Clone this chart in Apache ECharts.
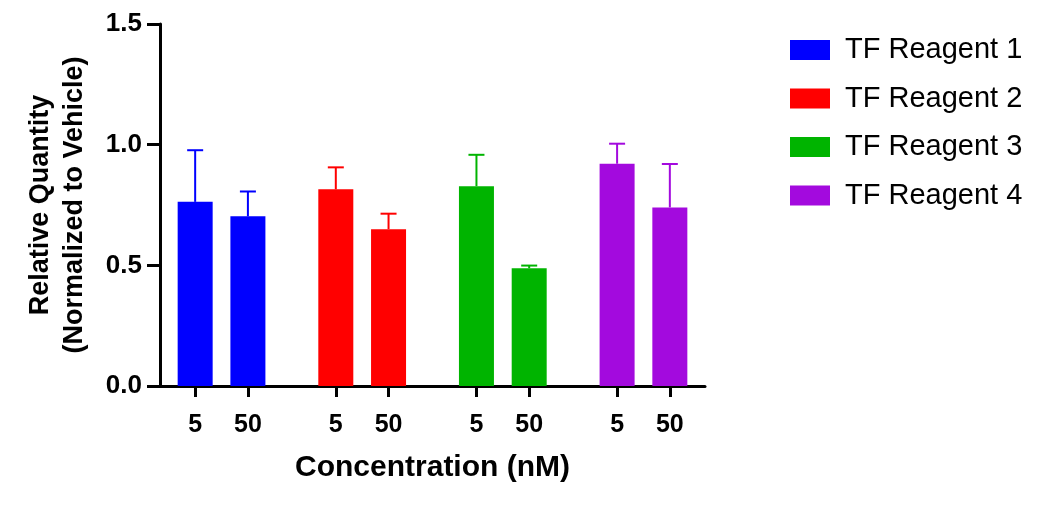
<!DOCTYPE html>
<html>
<head>
<meta charset="utf-8">
<script src="https://cdn.jsdelivr.net/npm/echarts@6/dist/echarts.min.js"></script>
<style>
  html, body { margin: 0; padding: 0; background: #fff; }
  #chart { width: 1060px; height: 510px; }
</style>
</head>
<body>
<div id="chart"></div>
<script>
  // data
  var reagents = ['TF Reagent 1', 'TF Reagent 2', 'TF Reagent 3', 'TF Reagent 4'];
  var concentrations = ['5', '50'];
  // mean per reagent, [5 nM, 50 nM]
  var reagent1Mean = [0.763, 0.703];
  var reagent2Mean = [0.815, 0.650];
  var reagent3Mean = [0.828, 0.488];
  var reagent4Mean = [0.921, 0.740];
  // top of the error bar (mean + SD)
  var reagent1Upper = [0.977, 0.806];
  var reagent2Upper = [0.906, 0.714];
  var reagent3Upper = [0.958, 0.499];
  var reagent4Upper = [1.004, 0.920];
  var yTicks = [0, 0.5, 1.0, 1.5];

  var means = [reagent1Mean, reagent2Mean, reagent3Mean, reagent4Mean];
  var uppers = [reagent1Upper, reagent2Upper, reagent3Upper, reagent4Upper];
  var colors = ['#0000ff', '#ff0000', '#00b400', '#a30ade'];
  var font = 'Liberation Sans, Arial, sans-serif';

  // the x axis is cut in narrow slots so the groups get their gaps
  var slotCount = 32;
  function slotOf(g, c) { return g * 8 + 2 + c * 3; }
  var xLabels = [];
  for (var i = 0; i < slotCount; i++) xLabels.push('');
  reagents.forEach(function (r, g) {
    concentrations.forEach(function (c, ci) { xLabels[slotOf(g, ci)] = c; });
  });

  var series = [];
  var errData = [];
  reagents.forEach(function (name, g) {
    var d = [];
    for (var i = 0; i < slotCount; i++) d.push('-');
    concentrations.forEach(function (c, ci) {
      d[slotOf(g, ci)] = means[g][ci];
      errData.push([slotOf(g, ci), means[g][ci], uppers[g][ci], g]);
    });
    series.push({
      name: name,
      type: 'bar',
      data: d,
      barWidth: 35,
      barGap: '-100%',
      itemStyle: { color: colors[g] },
      silent: true
    });
  });

  // error bars, upper half only
  series.push({
    type: 'custom',
    silent: true,
    z: 5,
    data: errData,
    encode: { x: 0, y: [1, 2] },
    renderItem: function (params, api) {
      var x = api.value(0);
      var lo = api.coord([x, api.value(1)]);
      var hi = api.coord([x, api.value(2)]);
      var col = colors[api.value(3)];
      var half = 8;
      return {
        type: 'group',
        children: [
          { type: 'line', shape: { x1: lo[0], y1: lo[1], x2: hi[0], y2: hi[1] },
            style: { stroke: col, lineWidth: 2 } },
          { type: 'line', shape: { x1: hi[0] - half, y1: hi[1], x2: hi[0] + half, y2: hi[1] },
            style: { stroke: col, lineWidth: 2 } }
        ]
      };
    }
  });

  var chart = echarts.init(document.getElementById('chart'));
  chart.setOption({
    animation: false,
    backgroundColor: '#fff',
    grid: { left: 160, right: 355, top: 24, bottom: 124 },
    legend: {
      orient: 'vertical',
      left: 785,
      top: 30,
      icon: 'rect',
      itemWidth: 40,
      itemHeight: 20,
      itemGap: 18.5,
      data: reagents,
      textStyle: { fontFamily: font, fontSize: 29, lineHeight: 30, color: '#000', padding: [0, 0, 0, 10] }
    },
    xAxis: {
      type: 'category',
      data: xLabels,
      boundaryGap: false,
      name: 'Concentration (nM)',
      nameLocation: 'middle',
      nameGap: 67,
      nameTextStyle: { fontFamily: font, fontSize: 30, fontWeight: 'bold', color: '#000' },
      axisLine: { lineStyle: { color: '#000', width: 3 } },
      axisTick: {
        length: 11,
        interval: function (idx, val) { return val !== ''; },
        lineStyle: { color: '#000', width: 3 }
      },
      axisLabel: {
        interval: 0,
        margin: 27,
        fontFamily: font, fontSize: 25, fontWeight: 'bold', color: '#000'
      },
      splitLine: { show: false }
    },
    yAxis: {
      type: 'value',
      min: yTicks[0],
      max: yTicks[yTicks.length - 1],
      interval: 0.5,
      name: 'Relative Quantity\n(Normalized to Vehicle)',
      nameLocation: 'middle',
      nameGap: 68,
      nameTextStyle: { fontFamily: font, fontSize: 27, fontWeight: 'bold', color: '#000', lineHeight: 34 },
      axisLine: { show: true, lineStyle: { color: '#000', width: 3 } },
      axisTick: { show: true, length: 13, lineStyle: { color: '#000', width: 3 } },
      axisLabel: {
        margin: 18,
        fontFamily: font, fontSize: 26, fontWeight: 'bold', color: '#000',
        formatter: function (v) { return v.toFixed(1); }
      },
      splitLine: { show: false }
    },
    series: series
  });
</script>
</body>
</html>
